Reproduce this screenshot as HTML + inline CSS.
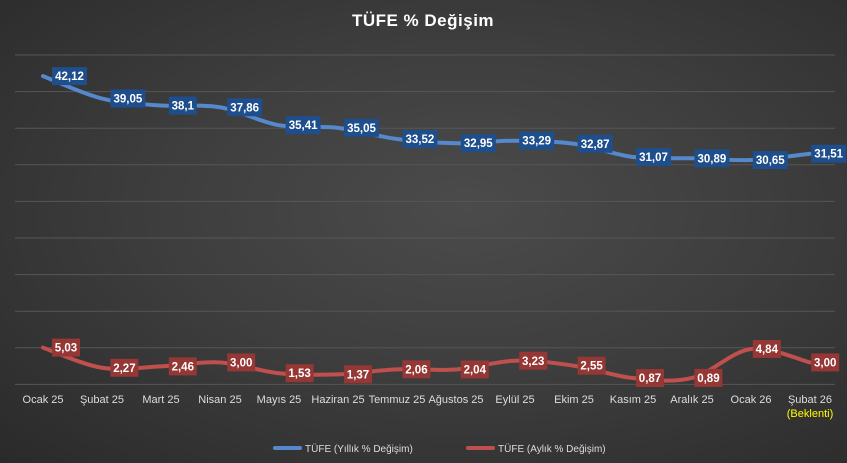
<!DOCTYPE html><html><head><meta charset="utf-8"><style>
body{margin:0;width:847px;height:463px;overflow:hidden;background:radial-gradient(ellipse at 55% 45%,#4b4b4b 0%,#3e3e3e 45%,#2a2a2a 100%);font-family:"Liberation Sans",sans-serif}
</style></head><body>
<svg id="s" width="847" height="463" xmlns="http://www.w3.org/2000/svg" style="position:absolute;left:0;top:0">
<text x="423" y="26" fill="#fff" font-size="17" font-weight="bold" text-anchor="middle" letter-spacing="0.5">TÜFE % Değişim</text>
</svg>
<script>
const s=document.getElementById('s'),NS='http://www.w3.org/2000/svg';
function el(t,a,txt){const e=document.createElementNS(NS,t);for(const k in a)e.setAttribute(k,a[k]);if(txt!=null)e.textContent=txt;s.appendChild(e);return e;}
for(let i=0;i<10;i++){const y=55+i*36.6;el('line',{x1:15,x2:835,y1:y,y2:y,stroke:'#565656','stroke-width':1});}
const cats=['Ocak 25','Şubat 25','Mart 25','Nisan 25','Mayıs 25','Haziran 25','Temmuz 25','Ağustos 25','Eylül 25','Ekim 25','Kasım 25','Aralık 25','Ocak 26','Şubat 26'];
const X=i=>43+i*59, Y=v=>384.4-v*7.32;
cats.forEach((c,i)=>el('text',{x:X(i),y:403,fill:'#ddd','font-size':11,'text-anchor':'middle'},c));
el('text',{x:X(13),y:417,fill:'#ffff00','font-size':11,'text-anchor':'middle'},'(Beklenti)');
const blue=[42.12,39.05,38.1,37.86,35.41,35.05,33.52,32.95,33.29,32.87,31.07,30.89,30.65,31.51];
const bl=['42,12','39,05','38,1','37,86','35,41','35,05','33,52','32,95','33,29','32,87','31,07','30,89','30,65','31,51'];
const red=[5.03,2.27,2.46,3.00,1.53,1.37,2.06,2.04,3.23,2.55,0.87,0.89,4.84,3.00];
const rl=['5,03','2,27','2,46','3,00','1,53','1,37','2,06','2,04','3,23','2,55','0,87','0,89','4,84','3,00'];
function path(v){const p=v.map((d,i)=>[X(i),Y(d)]);let d='M'+p[0];for(let i=0;i<p.length-1;i++){const p0=p[i-1]||p[i],p1=p[i],p2=p[i+1],p3=p[i+2]||p2,t=1/6;
d+=` C${p1[0]+(p2[0]-p0[0])*t},${p1[1]+(p2[1]-p0[1])*t} ${p2[0]-(p3[0]-p1[0])*t},${p2[1]-(p3[1]-p1[1])*t} ${p2[0]},${p2[1]}`;}return d;}
el('path',{d:path(blue),fill:'none',stroke:'#5588cc','stroke-width':4,'stroke-linecap':'round'});
el('path',{d:path(red),fill:'none',stroke:'#c0504d','stroke-width':4,'stroke-linecap':'round'});
function labels(v,l,fill){v.forEach((d,i)=>{const w=l[i].length*7,x=52+58.4*i,y=Y(d);el('rect',{x:x,y:y-9,width:w,height:18,fill:fill});
el('text',{x:x+w/2,y:y+4,fill:'#fff','font-size':11.5,'font-weight':'bold','text-anchor':'middle'},l[i]);});}
labels(blue,bl,'#1f4e8c');labels(red,rl,'#953735');
el('line',{x1:275,x2:300,y1:448,y2:448,stroke:'#5588cc','stroke-width':4,'stroke-linecap':'round'});
el('text',{x:305,y:452,fill:'#ddd','font-size':10},'TÜFE (Yıllık % Değişim)');
el('line',{x1:468,x2:493,y1:448,y2:448,stroke:'#c0504d','stroke-width':4,'stroke-linecap':'round'});
el('text',{x:498,y:452,fill:'#ddd','font-size':10},'TÜFE (Aylık % Değişim)');
</script>
</body></html>
